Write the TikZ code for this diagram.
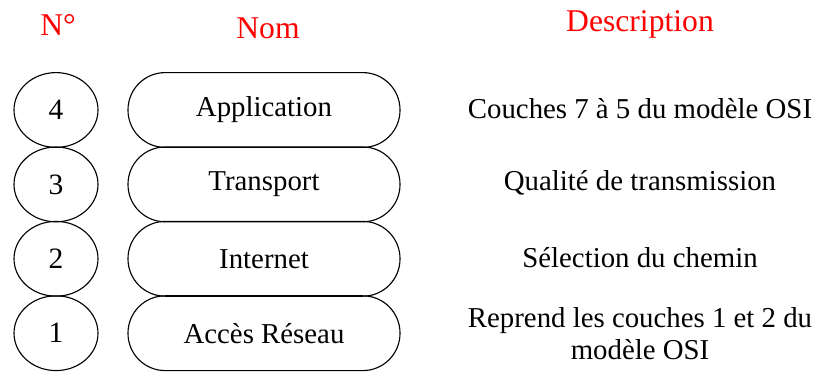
\documentclass[tikz,border=0pt]{standalone}
\usepackage{fontspec}
\setmainfont{Liberation Serif}
\usetikzlibrary{shapes.geometric}
\tikzstyle{head} = [text=red, font=\fontsize{22.5}{26}\selectfont]
\tikzstyle{num} = [ellipse, minimum width=2.1cm, minimum height=1.87cm, inner sep=0pt, text centered, draw=black, thick, font=\fontsize{21}{24}\selectfont]
\tikzstyle{layer} = [rectangle, rounded corners=0.93cm, minimum width=6.8cm, minimum height=1.87cm, text centered, draw=black, thick, font=\fontsize{20.5}{24}\selectfont]
\tikzstyle{desc} = [align=center, font=\fontsize{20.5}{22.7}\selectfont]

\begin{document}
\begin{tikzpicture}[node distance=1.86cm]
\useasboundingbox (0,0) rectangle (20.45,-9.3);
% en-tetes
\node (hnum) [head] at (1.45,-0.62) {N°};
\node (hnom) [head] at (6.7,-0.7) {Nom};
\node (hdesc) [head] at (16.0,-0.62) {Description};

% numeros
\node (n4) [num] at (1.4,-2.75) {4};
\node (n3) [num, below of=n4] {3};
\node (n2) [num, below of=n3] {2};
\node (n1) [num, below of=n2] {1};

% couches
\node (l4) [layer] at (6.6,-2.75) {Application};
\node (l3) [layer, below of=l4] {Transport};
\node (l2) [layer, below of=l3] {Internet};
\node (l1) [layer, below of=l2] {Accès Réseau};

% descriptions
\node (d4) [desc] at (16.0,-2.72) {Couches 7 à 5 du modèle OSI};
\node (d3) [desc, below of=d4] {Qualité de transmission};
\node (d2) [desc, below of=d3] {Sélection du chemin};
\node (d1) [desc, below of=d2, yshift=-0.05cm] {Reprend les couches 1 et 2 du\\modèle OSI};
\end{tikzpicture}
\end{document}
